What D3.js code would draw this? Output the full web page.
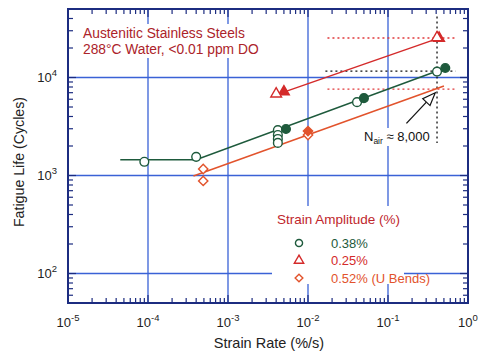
<!DOCTYPE html>
<html>
<head>
<meta charset="utf-8">
<script src="https://cdn.jsdelivr.net/npm/d3@7"></script>
<style>
  body { margin: 0; background: #fff; }
  text { font-family: "Liberation Sans", Arial, sans-serif; }
</style>
</head>
<body>
<div id="chart"></div>
<script>
"use strict";

var width = 478;
var height = 354;

// data (strain rate %/s, fatigue life cycles)
var openCircles = [[9e-5, 1380], [4e-4, 1550], [4.2e-3, 2900], [4.2e-3, 2590], [4.2e-3, 2360], [4.2e-3, 2150], [0.041, 5600], [0.41, 11500]];
var filledCircles = [[5.3e-3, 2980], [0.05, 6150], [0.52, 12500]];
var circleLine = [[4.5e-5, 1450], [4e-4, 1450], [0.52, 12500]];

var openTriangles = [[4e-3, 6800], [0.41, 25500]];
var filledTriangles = [[5e-3, 7150], [0.435, 25200]];
var triangleLine = [[3.65e-3, 6500], [0.45, 25500]];

var openDiamonds = [[4.9e-4, 1165], [4.9e-4, 880], [0.01, 2590]];
var filledDiamonds = [[0.01, 2840]];
var diamondLine = [[3.7e-4, 990], [0.5, 8200]];

// dotted reference lines
var redDotted = [[[0.0175, 25300], [0.7, 25300]], [[0.0175, 7600], [0.7, 7600]]];
var blackDotted = [[[0.0165, 11600], [0.7, 11600]], [[0.41, 42000], [0.41, 2150]]];
var arrowLine = [[0.17, 3400], [0.39, 7000]];

var xMajor = [-5, -4, -3, -2, -1, 0];
var yMajor = [2, 3, 4];

var green = "#1e5a3c";
var red = "#d42a2a";
var orange = "#e2532c";
var navy = "#1c2c80";
var gridBlue = "#3a62d6";

var svg = d3.select("#chart").append("svg").attr("width", width).attr("height", height);

var x = d3.scaleLog().domain([1e-5, 1]).range([68, 468]);
var y = d3.scaleLog().domain([50, 50000]).range([303, 9]);

// gridlines
svg.append("g").selectAll("line").data([1e-4, 1e-3, 1e-2, 1e-1]).enter().append("line")
  .attr("x1", function (d) { return x(d); }).attr("x2", function (d) { return x(d); })
  .attr("y1", 9).attr("y2", 303)
  .attr("stroke", gridBlue).attr("stroke-width", 1.3);
svg.append("g").selectAll("line").data([100, 1000, 10000]).enter().append("line")
  .attr("y1", function (d) { return y(d); }).attr("y2", function (d) { return y(d); })
  .attr("x1", 68).attr("x2", 468)
  .attr("stroke", gridBlue).attr("stroke-width", 1.3);

// white boxes behind text
svg.append("rect").attr("x", 78).attr("y", 24).attr("width", 210).attr("height", 34).attr("fill", "#fff");
svg.append("rect").attr("x", 272).attr("y", 206).attr("width", 132).attr("height", 78).attr("fill", "#fff");
svg.append("rect").attr("x", 360).attr("y", 128).attr("width", 68).attr("height", 18).attr("fill", "#fff");

var line = d3.line().x(function (d) { return x(d[0]); }).y(function (d) { return y(d[1]); });

// dotted lines
svg.append("g").selectAll("path").data(redDotted).enter().append("path")
  .attr("d", line).attr("fill", "none").attr("stroke", "#e0393a").attr("stroke-width", 1.3).attr("stroke-dasharray", "2,3");
svg.append("g").selectAll("path").data(blackDotted).enter().append("path")
  .attr("d", line).attr("fill", "none").attr("stroke", "#111").attr("stroke-width", 1.3).attr("stroke-dasharray", "2,3");

// fit lines
svg.append("path").datum(circleLine).attr("d", line).attr("fill", "none").attr("stroke", green).attr("stroke-width", 1.5);
svg.append("path").datum(triangleLine).attr("d", line).attr("fill", "none").attr("stroke", red).attr("stroke-width", 1.5);
svg.append("path").datum(diamondLine).attr("d", line).attr("fill", "none").attr("stroke", orange).attr("stroke-width", 1.5);

// markers
var circleSym = d3.symbol().type(d3.symbolCircle).size(60);
var triSym = d3.symbol().type(d3.symbolTriangle).size(50);
var diaSym = d3.symbol().type(d3.symbolDiamond2).size(55);

function drawMarks(data, sym, color, filled) {
  svg.append("g").selectAll("path").data(data).enter().append("path")
    .attr("d", sym)
    .attr("transform", function (d) { return "translate(" + x(d[0]) + "," + y(d[1]) + ")"; })
    .attr("fill", filled ? color : "#fff")
    .attr("stroke", color).attr("stroke-width", 1.4);
}
drawMarks(openCircles, circleSym, green, false);
drawMarks(filledCircles, circleSym, green, true);
drawMarks(filledTriangles, triSym, red, true);
drawMarks(openTriangles, triSym, red, false);
drawMarks(openDiamonds, diaSym, orange, false);
drawMarks(filledDiamonds, diaSym, orange, true);

// arrow
var ax0 = x(arrowLine[0][0]), ay0 = y(arrowLine[0][1]);
var ax1 = x(arrowLine[1][0]), ay1 = y(arrowLine[1][1]);
var ang = Math.atan2(ay1 - ay0, ax1 - ax0);
var hl = 13, hw = 5;
var bx = ax1 - hl * Math.cos(ang), by = ay1 - hl * Math.sin(ang);
svg.append("line").attr("x1", ax0).attr("y1", ay0).attr("x2", bx).attr("y2", by)
  .attr("stroke", "#111").attr("stroke-width", 1.3);
svg.append("path")
  .attr("d", "M" + ax1 + "," + ay1 +
    "L" + (bx + hw * Math.sin(ang)) + "," + (by - hw * Math.cos(ang)) +
    "L" + (bx - hw * Math.sin(ang)) + "," + (by + hw * Math.cos(ang)) + "Z")
  .attr("fill", "#fff").attr("stroke", "#111").attr("stroke-width", 1.2);

var nair = svg.append("text").attr("x", 364).attr("y", 141).attr("font-size", 13).attr("fill", "#111");
nair.append("tspan").text("N");
nair.append("tspan").attr("dy", 3).attr("font-size", 8.5).text("air");
nair.append("tspan").attr("dy", -3).text(" \u2248 8,000");

// title
svg.append("text").attr("x", 83).attr("y", 38).attr("font-size", 13.8).attr("fill", "#ac232a").text("Austenitic Stainless Steels");
svg.append("text").attr("x", 83).attr("y", 54).attr("font-size", 13.8).attr("fill", "#ac232a").text("288\u00b0C Water, <0.01 ppm  DO");

// legend
svg.append("text").attr("x", 277).attr("y", 224).attr("font-size", 13.5).attr("fill", "#c0262c").text("Strain Amplitude (%)");
var legendItems = [
  { label: "0.38%", sym: d3.symbol().type(d3.symbolCircle).size(40), color: green },
  { label: "0.25%", sym: d3.symbol().type(d3.symbolTriangle).size(38), color: red },
  { label: "0.52% (U Bends)", sym: d3.symbol().type(d3.symbolDiamond2).size(38), color: orange }
];
legendItems.forEach(function (d, i) {
  var ly = 243 + i * 17.5;
  svg.append("path").attr("d", d.sym).attr("transform", "translate(299," + ly + ")")
    .attr("fill", "#fff").attr("stroke", d.color).attr("stroke-width", 1.4);
  svg.append("text").attr("x", 331).attr("y", ly + 4.5).attr("font-size", 13).attr("fill", d.color).text(d.label);
});

// frame + ticks
var tickG = svg.append("g").attr("stroke", navy).attr("stroke-width", 1.2);
var xMinor = x.ticks().filter(function (d) { return d > 1e-5 && d < 1; });
var yMinor = y.ticks().filter(function (d) { return d > 50 && d < 50000; });
function isMajor(v) { return Math.abs(Math.log10(v) - Math.round(Math.log10(v))) < 1e-6; }

xMinor.forEach(function (v) {
  var len = isMajor(v) ? 8 : 5;
  tickG.append("line").attr("x1", x(v)).attr("x2", x(v)).attr("y1", 303).attr("y2", 303 - len);
  tickG.append("line").attr("x1", x(v)).attr("x2", x(v)).attr("y1", 9).attr("y2", 9 + len);
});
yMinor.forEach(function (v) {
  var len = isMajor(v) ? 8 : 5;
  tickG.append("line").attr("y1", y(v)).attr("y2", y(v)).attr("x1", 68).attr("x2", 68 + len);
  tickG.append("line").attr("y1", y(v)).attr("y2", y(v)).attr("x1", 468).attr("x2", 468 - len);
});
svg.append("rect").attr("x", 68).attr("y", 9).attr("width", 400).attr("height", 294)
  .attr("fill", "none").attr("stroke", navy).attr("stroke-width", 2);

// tick labels
xMajor.forEach(function (e) {
  var t = svg.append("text").attr("x", x(Math.pow(10, e))).attr("y", 327)
    .attr("text-anchor", "middle").attr("font-size", 13).attr("fill", "#222");
  t.append("tspan").text("10");
  t.append("tspan").attr("dy", -6).attr("font-size", 9.5).text(e);
});
yMajor.forEach(function (e) {
  var t = svg.append("text").attr("x", 57).attr("y", y(Math.pow(10, e)) + 5)
    .attr("text-anchor", "end").attr("font-size", 13).attr("fill", "#222");
  t.append("tspan").text("10");
  t.append("tspan").attr("dy", -6).attr("font-size", 9.5).text(e);
});

// axis titles
svg.append("text").attr("x", 269).attr("y", 348).attr("text-anchor", "middle")
  .attr("font-size", 14.5).attr("fill", "#222").text("Strain Rate (%/s)");
svg.append("text").attr("transform", "translate(24,162) rotate(-90)").attr("text-anchor", "middle")
  .attr("font-size", 14.2).attr("fill", "#222").text("Fatigue Life (Cycles)");
</script>
</body>
</html>
